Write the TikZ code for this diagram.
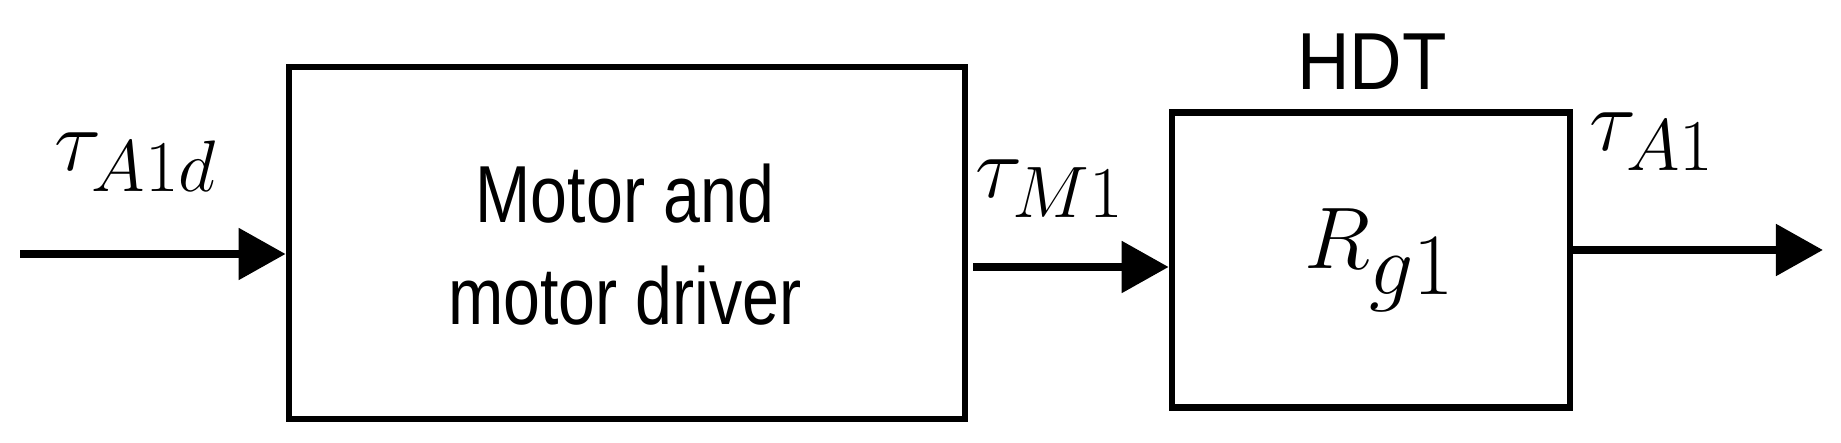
\documentclass[tikz,border=0pt]{standalone}
\usepackage{fontspec}
\setmainfont{Liberation Sans}
\usetikzlibrary{arrows.meta}
\begin{document}
\begin{tikzpicture}[x=0.01cm,y=-0.01cm,
  blk/.style={draw,line width=1.8pt,inner sep=0pt},
  sig/.style={line width=2.4pt,-{Triangle[length=0.47cm,width=0.5cm]}},
  lab/.style={font=\fontsize{30}{34}\selectfont}]
\useasboundingbox (0,0) rectangle (1841,443);
\node[blk,minimum width=6.76cm,minimum height=3.52cm] (b1) at (627,243) {};
\node[align=center,font=\fontsize{23}{29}\selectfont,xscale=0.82] (t1) at (625,245) {Motor and\\motor driver};
\node[blk,minimum width=3.98cm,minimum height=2.95cm] (b2) at (1371,260) {};
\node[font=\fontsize{33}{36}\selectfont] (r) at (1380,260) {$R_{g1}$};
\node[font=\fontsize{23}{26}\selectfont,xscale=0.9] (hdt) at (1372,62) {HDT};
\coordinate (in) at (20,254);
\coordinate (o1) at (973,267);
\coordinate (out) at (1823,250);
\draw[sig] (in) -- (b1.west |- in);
\draw[sig] (o1) -- (b2.west |- o1);
\draw[sig] (b2.east |- out) -- (out);
\node[lab] (l1) at (136,162) {$\tau_{A1d}$};
\node[lab] (l2) at (1050,189) {$\tau_{M1}$};
\node[lab] (l3) at (1652,142) {$\tau_{A1}$};
\end{tikzpicture}
\end{document}
